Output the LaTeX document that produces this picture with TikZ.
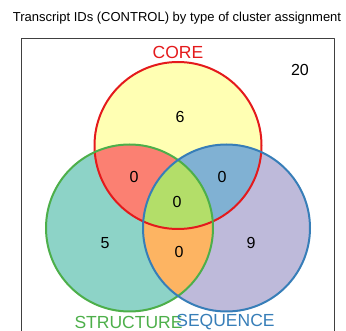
\documentclass[tikz,border=0pt]{standalone}
\usepackage{fontspec}
\setsansfont{Liberation Sans}
\definecolor{cored}{HTML}{E41A1C}
\definecolor{strgreen}{HTML}{4DAF4A}
\definecolor{seqblue}{HTML}{377EB8}
\definecolor{fcore}{HTML}{FFFFB3}
\definecolor{fstr}{HTML}{8DD3C7}
\definecolor{fseq}{HTML}{BEBADA}
\definecolor{fcorestr}{HTML}{FB8072}
\definecolor{fcoreseq}{HTML}{80B1D3}
\definecolor{fstrseq}{HTML}{FDB462}
\definecolor{fall}{HTML}{B3DE69}
\begin{document}
\begin{tikzpicture}[x=1pt,y=-1pt, font=\sffamily, line join=round, line cap=round,
	num/.style={font=\sffamily\fontsize{16}{18}\selectfont},
	setlab/.style={font=\sffamily\fontsize{17.5}{20}\selectfont}]
			\def\r{83.5pt} % radius
			\useasboundingbox (0,0) rectangle (346,331);
			\coordinate (A) at (178,145.5); % CORE
			\coordinate (B) at (129.5,228); % STRUCTURE
			\coordinate (C) at (226.5,228); % SEQUENCE
			\draw[black!75,line width=0.9pt] (21,340) |- (334,38) -- (334,340);
			% Regions
			\fill[fcore] (A) circle(\r);
			\fill[fstr] (B) circle(\r);
			\fill[fseq] (C) circle(\r);
			\begin{scope}
				\clip (A) circle(\r);
				\fill[fcorestr] (B) circle(\r);
				\fill[fcoreseq] (C) circle(\r);
			\end{scope}
			\begin{scope}
				\clip (B) circle(\r);
				\fill[fstrseq] (C) circle(\r);
				\clip (C) circle(\r);
				\fill[fall] (A) circle(\r);
			\end{scope}
			\draw[cored,line width=2pt] (A) circle(\r);
			\draw[strgreen,line width=2pt] (B) circle(\r);
			\draw[seqblue,line width=2pt] (C) circle(\r);
			% Labels
			\node[font=\sffamily\fontsize{13}{15}\selectfont] (title) at (177,18) {Transcript IDs (CONTROL) by type of cluster assignment};
			\node[setlab,text=cored] (core) at (178,52) {CORE};
			\node[setlab,text=strgreen] (struct) at (128.5,322) {STRUCTURE};
			\node[setlab,text=seqblue] (seq) at (225.5,322) {SEQUENCE};
			\node[num] (nA) at (180,117) {6};
			\node[num] (nAB) at (134,177) {0};
			\node[num] (nAC) at (222,177) {0};
			\node[num] (nABC) at (177,202) {0};
			\node[num] (nB) at (105,243) {5};
			\node[num] (nC) at (251,243) {9};
			\node[num] (nBC) at (179,252) {0};
			\node[num] (nout) at (300,70) {20};
\end{tikzpicture}
\end{document}
